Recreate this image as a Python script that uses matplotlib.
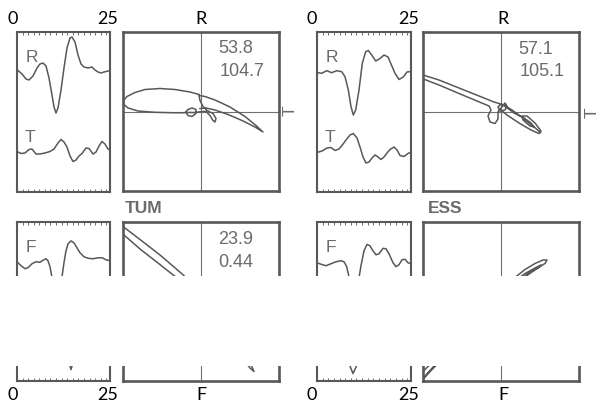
import matplotlib
matplotlib.use("Agg")
import matplotlib.pyplot as plt
import numpy as np
from matplotlib.patches import Rectangle

W, H = 599, 405

# ---- trace data (time in s, amplitude in arbitrary units about each baseline) ----
tum_r_t = [0.13, 1.34, 2.42, 3.23, 4.30, 5.38, 6.18, 6.99, 7.80, 8.60, 9.41, 9.95, 10.48, 11.02,
           11.83, 12.63, 13.44, 14.25, 14.78, 15.59, 16.40, 17.20, 18.01, 19.09, 20.16, 20.97,
           21.77, 22.58, 23.39, 24.46, 25.0]
tum_r_a = [1, -3, -8, -9, -5, 3, 7, 8, 5, -7, -24, -36, -42, -37, -19, 3, 23, 33, 34, 29, 16, 7,
           4, 3, 4, 1, -1, -2, -1, 0, 0]

tum_t_t = [0.0, 1.08, 2.15, 3.23, 4.03, 5.11, 6.18, 7.53, 8.87, 9.95, 11.02, 11.83, 12.63, 13.44,
           14.25, 15.05, 15.86, 16.67, 17.47, 18.55, 19.35, 20.43, 21.24, 22.04, 22.85, 23.65,
           24.46, 25.0]
tum_t_a = [-0.5, -2.5, -2, 1.5, 2, -3, -3, -2, -0.5, 2, 8, 11.5, 9, 4, -5, -10.5, -9, -5, -2.5,
           3, 2.5, -3, -1, 5, 9.5, 7, 2, 1]

tum_f_t = [0.0, 1.08, 2.15, 2.96, 4.03, 5.11, 6.18, 6.99, 7.80, 8.33, 8.87, 9.41, 9.95, 10.75,
           11.56, 12.10, 12.63, 13.17, 13.71, 14.52, 15.32, 16.13, 16.94, 18.01, 19.09, 20.43,
           21.77, 22.85, 23.92, 25.0]
tum_f_a = [-3, -7, -10, -9, -5, -3, -3.5, -1.5, 0, -2, -8, -19, -34, -42, -32, -18, -4, 8, 15,
           18, 16, 11, 6, 2, 0.5, 0, 1, 1, -1, -2]

tum_z_t = [13.71, 14.25, 14.52, 14.78, 15.32]
tum_z_a = [-30, -36, -39.5, -36, -30]

ess_r_t = [0.0, 1.25, 2.58, 3.91, 5.24, 6.57, 7.45, 8.33, 9.04, 9.66, 10.29, 11.17, 12.05, 12.95,
           13.64, 14.55, 15.61, 16.76, 17.82, 18.89, 19.68, 20.75, 21.81, 22.95, 23.94, 25.0]
ess_r_a = [-0.5, -1.3, 1.3, -0.7, 1.3, 0.3, -4.7, -18, -34.7, -43, -38, -18, 8.7, 20.3, 21.5,
           17, 11, 13.5, 17, 15, 8, -1.3, -7.5, -5, 0, 0.5]

ess_t_t = [0.0, 1.33, 2.66, 3.72, 4.79, 5.85, 6.65, 7.71, 8.78, 9.66, 10.64, 11.44, 12.24, 13.03,
           13.83, 14.63, 15.43, 16.23, 17.02, 17.82, 18.62, 19.42, 20.48, 21.28, 22.08, 23.14,
           24.21, 25.0]
ess_t_a = [-0.5, 1, 4, 4.5, 1.5, 3, 6.5, 12, 17, 18.5, 14, 5, -5, -11, -10, -6, -3, -5, -7.5,
           -5, -1, 2.5, 5, 2, -3.5, -4.5, -1.5, 0]

ess_f_t = [0.0, 1.06, 2.39, 3.72, 5.05, 6.38, 7.18, 7.85, 8.38, 8.78, 9.57, 10.37, 11.04, 11.70,
           12.50, 13.30, 14.10, 14.89, 15.69, 16.49, 17.55, 18.35, 19.15, 20.21, 21.01, 21.81,
           22.61, 23.40, 24.20, 25.0]
ess_f_a = [-4, -5.5, -7, -5, -3, -2, -3, -7.5, -16, -27, -42, -34, -22, -7, 8, 14.5, 13, 8, 4,
           5, 10.5, 10, 5, -4, -8, -6, -1, -0.5, -4, -5]

ess_z_t = [8.24, 8.78, 9.57, 10.51, 11.04]
ess_z_a = [-28, -36, -43.5, -36, -28]

# ---- particle motion (hodogram) data ----
tum_rt_x = [-2, -11, -26, -41, -56, -66, -74, -77.5, -77, -73, -63, -46, -26, -16,
            -13, -9, -5, -5, -9, -13, -15, -6, 1, 5, 9, 12, 14, 15, 12, 6, 2, -1, -2,
            4, 14, 29, 44, 55, 62, 54, 41, 27, 14, 5, -1]
tum_rt_y = [17, 19.5, 22, 23, 22, 19, 15, 11, 7, 3.5, 0.5, -0.8, -1.3, -1.2,
            2, 3.5, 2, -2, -5, -4, -1, -1, 0, 0, -4, -9, -10.5, -7, -2, 1, 5, 11, 16,
            15, 11.5, 4.5, -5, -14, -20.5, -15.5, -9, -3, 1.5, 3.5, 3]

ess_rt_x = [39.5, 32, 22, 11, 3, -7, -22, -42, -62, -78, -80, -79, -62, -42, -24, -12,
            -10, -13, -11, -6, -3, -3, 0, 4, 6, 4, -1, -3, 0, 5,
            13, 23, 30, 33, 29, 22, 21, 26, 34, 40, 38, 30, 18, 6, 1]
ess_rt_y = [-21, -14.5, -6.5, 1.5, 6.5, 9.5, 15.5, 23.5, 31.5, 36.5, 35.5, 33, 26.5, 18, 10.5, 5.5,
            1.5, -4.5, -10.5, -12, -7.5, -0.5, 3.5, 8.5, 5.5, 1.5, 0.5, 4.5, 7.5, 4.5,
            -1.5, -6.5, -11.5, -15.5, -14.5, -8.5, -4.5, -4.5, -11.5, -19.5, -22, -18.5, -11.5, -3.5, 0.5]

tum_fz_x = [-82, -61, -41, -20, -1, 24, 44, 51, 53, 49, 39, 14, -6, -24, -43, -61, -77, -82]
tum_fz_y = [78, 62, 46.5, 28.5, 11.5, -23.5, -53.5, -65.5, -70, -66.5, -53.5, -23.5, 4.5, 23.5,
            38.5, 52.5, 66.5, 70]

ess_fz_x = [-84, -55, -25, 0, 14, 24, 34, 42, 46, 44, 36, 26, 14, -15, -45, -70, -82,
            -65, -35, -5, 12, 24, 34, 40, 38, 30, 20, -10, -40, -80]
ess_fz_y = [-76, -47, -16, 10, 24, 32, 38, 41.5, 41.5, 38, 33, 26, 16, -12, -43, -69, -82,
            -62, -30, 2, 19, 28, 33.5, 36.5, 34, 30, 23, -7, -38, -79]

tum_values_top = ["53.8", "104.7"]
ess_values_top = ["57.1", "105.1"]
tum_values_bot = ["23.9", "0.44"]

INK = "#585858"
TXT = "#6b6b6b"

fig = plt.figure(figsize=(W / 100, H / 100), dpi=100)
fig.patch.set_facecolor("white")


def px_axes(left, top, right, bottom):
    return fig.add_axes([left / W, 1 - bottom / H, (right - left) / W, (bottom - top) / H])


def fig_text(x, y, s, **kw):
    fig.text(x / W, 1 - y / H, s, **kw)


def trace_panel(rect, traces):
    ax = px_axes(*rect)
    for t, a, base in traces:
        ax.plot(t, np.asarray(a) + base, color=INK, lw=1.1, solid_joinstyle="round")
    ax.set_xlim(0, 25)
    ax.set_ylim(0, 160)
    ax.set_xticks(np.arange(0, 25.1, 1.5))
    ax.set_yticks([])
    ax.tick_params(axis="x", direction="in", length=2, width=0.6, color=INK,
                   top=True, bottom=True, labelbottom=False)
    for sp in ax.spines.values():
        sp.set_color(INK)
        sp.set_linewidth(1.5)
    return ax


def hodo_panel(rect, x, y):
    ax = px_axes(*rect)
    ax.axhline(0, color="#707070", lw=0.8)
    ax.axvline(0, color="#707070", lw=0.8)
    ax.plot(x, y, color=INK, lw=1.1, solid_joinstyle="round")
    ax.set_xlim(-78, 78)
    ax.set_ylim(-79.5, 79.5)
    ax.set_xticks([])
    ax.set_yticks([])
    for sp in ax.spines.values():
        sp.set_color(INK)
        sp.set_linewidth(1.9)
    return ax


# top row
trace_panel((17, 32, 110, 192), [(tum_r_t, tum_r_a, 121), (tum_t_t, tum_t_a, 41)])
hodo_panel((123, 32, 279, 191), tum_rt_x, tum_rt_y)
trace_panel((317, 32, 411, 192), [(ess_r_t, ess_r_a, 120), (ess_t_t, ess_t_a, 40)])
hodo_panel((423, 32, 579, 191), ess_rt_x, ess_rt_y)

# bottom row
trace_panel((17, 222, 110, 381), [(tum_f_t, tum_f_a, 123), (tum_z_t, tum_z_a, 51)])
hodo_panel((123, 222, 279, 381), tum_fz_x, tum_fz_y)
trace_panel((317, 222, 411, 381), [(ess_f_t, ess_f_a, 123), (ess_z_t, ess_z_a, 51)])
hodo_panel((423, 222, 579, 381), ess_fz_x, ess_fz_y)

# blank band across the lower row
fig.patches.append(Rectangle((0, 1 - 366 / H), 1, 90 / H, transform=fig.transFigure,
                             facecolor="white", edgecolor="none", zorder=10))

# gray labels printed inside the figure
lab = dict(color=TXT, fontsize=12.5, family="Liberation Sans", ha="center", va="center")
for x0 in (0, 300):
    fig_text(x0 + 32, 58, "R", **lab)
    fig_text(x0 + 30, 138, "T", **lab)
    fig_text(x0 + 31, 248, "F", **lab)
fig_text(290, 111, "T", rotation=90, **lab)
fig_text(592, 113, "T", rotation=90, **lab)

num = dict(color=TXT, fontsize=13, family="Liberation Sans", ha="left", va="center")
fig_text(218, 48.5, tum_values_top[0], **num)
fig_text(220, 71.5, tum_values_top[1], **num)
fig_text(518, 49, ess_values_top[0], **num)
fig_text(520, 71.5, ess_values_top[1], **num)
fig_text(218, 239, tum_values_bot[0], **num)
fig_text(218, 262.5, tum_values_bot[1], **num)

stn = dict(color=TXT, fontsize=12.5, family="Liberation Sans", fontweight="bold",
           ha="left", va="center")
fig_text(125, 208.5, "TUM", **stn)
fig_text(428, 208.5, "ESS", **stn)

# black axis captions
cap = dict(color="black", fontsize=13, family="Lato", ha="center", va="center")
for y, comp in ((19, "R"), (395, "F")):
    fig_text(13, y, "0", **cap)
    fig_text(108, y, "25", **cap)
    fig_text(201, y, comp, **cap)
    fig_text(312, y, "0", **cap)
    fig_text(409, y, "25", **cap)
    fig_text(503, y, comp, **cap)

fig.savefig("out.png", dpi=100)
